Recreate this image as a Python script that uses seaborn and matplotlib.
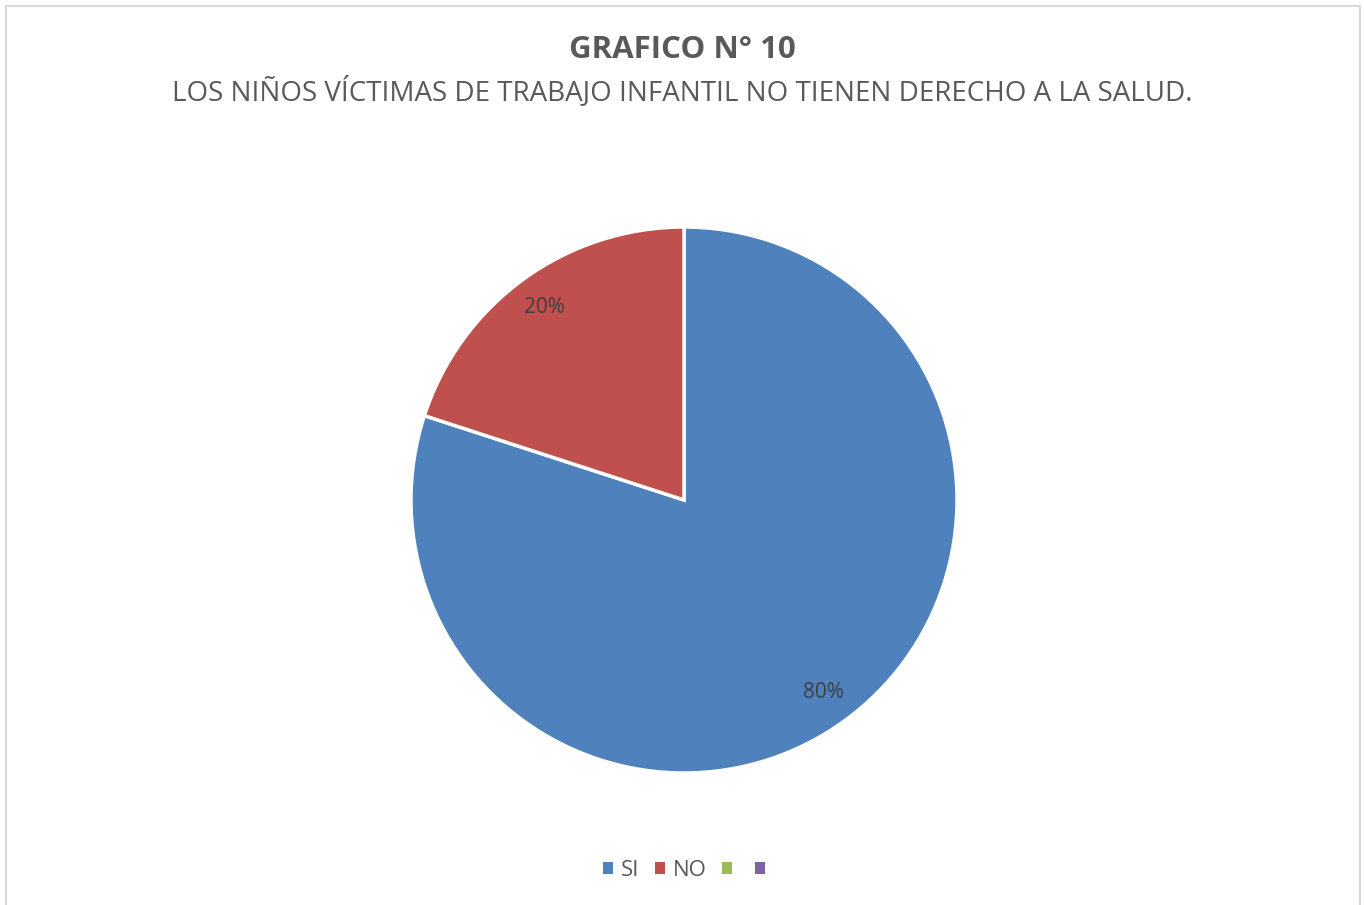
import matplotlib
matplotlib.use('Agg')
import matplotlib.pyplot as plt
import matplotlib.patches as mpatches
import seaborn as sns

# datos del grafico
categorias = ['SI', 'NO', '', '']
valores = [80, 20, 0, 0]
colores = ['#4F81BD', '#C0504D', '#9BBB59', '#8064A2']

titulo = 'GRAFICO N° 10'
subtitulo = 'LOS NIÑOS VÍCTIMAS DE TRABAJO INFANTIL NO TIENEN DERECHO A LA SALUD.'

sns.set_theme(style='white')
plt.rcParams['font.family'] = ['Open Sans', 'DejaVu Sans']
gris = '#595959'

fig = plt.figure(figsize=(13.64, 9.05), dpi=100)
fig.patch.set_facecolor('white')

# marco del area del grafico
W, H = 1364, 905
marco = mpatches.Rectangle((6 / W, -0.02), (1360 - 6) / W, (H - 6) / H + 0.02,
                           transform=fig.transFigure, fill=False,
                           edgecolor='#D9D9D9', linewidth=1.5)
fig.patches.append(marco)

cx, cy, r = 684, 500, 273
ax = fig.add_axes([(cx - r) / W, (H - cy - r) / H, 2 * r / W, 2 * r / H])

# solo las porciones con valor > 0
vals = [v for v in valores if v > 0]
cols = [c for v, c in zip(valores, colores) if v > 0]
wedges, texts, autotexts = ax.pie(vals, colors=cols, startangle=90, counterclock=False,
                                  autopct='%1.0f%%', pctdistance=0.87, radius=1,
                                  wedgeprops=dict(edgecolor='white', linewidth=2.5),
                                  textprops=dict(color='#404040', fontsize=15))
ax.set_xlim(-1, 1)
ax.set_ylim(-1, 1)
ax.set_aspect('equal')
ax.axis('off')

fig.text(0.5, 1 - 50 / H, titulo, ha='center', va='center', fontsize=22.5,
         fontweight='bold', color=gris)
fig.text(0.5, 1 - 92 / H, subtitulo, ha='center', va='center', fontsize=20,
         color=gris)

handles = [mpatches.Patch(facecolor=c, edgecolor='none') for c in colores]
fig.legend(handles, categorias, loc='center', bbox_to_anchor=(0.5 + 6 / W, 1 - 870 / H),
           ncol=4, frameon=False, fontsize=16, handlelength=0.45, handleheight=0.45,
           handletextpad=0.35, columnspacing=0.7, labelcolor=gris)

fig.savefig('out.png', dpi=100)
